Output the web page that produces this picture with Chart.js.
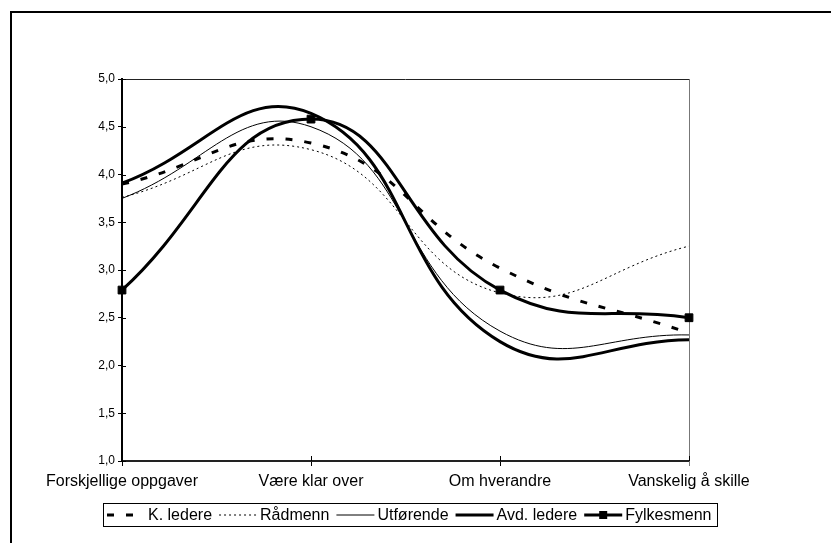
<!DOCTYPE html>
<html>
<head>
<meta charset="utf-8">
<script src="https://cdn.jsdelivr.net/npm/chart.js@4/dist/chart.umd.min.js"></script>
<style>
  html, body { margin: 0; padding: 0; background: #fff; }
  #wrap { position: relative; width: 831px; height: 543px; }
</style>
</head>
<body>
<div id="wrap"><canvas id="chartCanvas"></canvas></div>
<script>
const categories = ["Forskjellige oppgaver", "Være klar over", "Om hverandre", "Vanskelig å skille"];

const kLedere = [3.9, 4.33, 3.02, 2.34];
const radmenn = [3.76, 4.26, 2.76, 3.25];
const utforende = [3.75, 4.5, 2.36, 2.32];
const avdLedere = [3.91, 4.64, 2.25, 2.27];
const fylkesmenn = [2.79, 4.58, 2.79, 2.5];

const yMin = 1;
const yMax = 5;
const yStep = 0.5;

const FONT = '"Liberation Sans", Arial, sans-serif';

function line(label, data, width, dash, marker) {
  return {
    label: label,
    data: data,
    borderColor: "#000",
    backgroundColor: "#000",
    borderWidth: width,
    borderDash: dash,
    tension: 0.45,
    fill: false,
    pointStyle: "rect",
    pointRadius: marker ? 5.5 : 0,
    pointBorderWidth: 1,
    pointHoverRadius: 0,
  };
}

// outer frame of the chart area (runs off the right and bottom edges)
const framePlugin = {
  id: "frame",
  beforeDraw(chart) {
    const c = chart.ctx;
    c.save();
    c.fillStyle = "#000";
    c.fillRect(10, 11, 2, chart.height);
    c.fillRect(10, 11, chart.width, 2);
    c.restore();
  },
};

// top/right border of the plot and ticks crossing inside the axes
const plotBorderPlugin = {
  id: "plotBorder",
  beforeDatasetsDraw(chart) {
    const { left, right, top, bottom } = chart.chartArea;
    const c = chart.ctx;
    c.save();
    c.lineWidth = 1;
    c.strokeStyle = "#222";
    c.beginPath();
    c.moveTo(left, top + 0.5);
    c.lineTo(right, top + 0.5);
    c.stroke();
    c.strokeStyle = "#777";
    c.beginPath();
    c.moveTo(right + 0.5, top);
    c.lineTo(right + 0.5, bottom + 5);
    c.stroke();

    c.strokeStyle = "#000";
    const ys = chart.scales.y;
    ys.ticks.forEach((t) => {
      const py = Math.round(ys.getPixelForValue(t.value)) + 0.5;
      c.beginPath();
      c.moveTo(left, py);
      c.lineTo(left + 4, py);
      c.stroke();
    });
    const xs = chart.scales.x;
    categories.forEach((_, i) => {
      const px = Math.round(xs.getPixelForValue(i)) + 0.5;
      c.beginPath();
      c.moveTo(px, bottom);
      c.lineTo(px, bottom - 5);
      c.stroke();
    });
    c.restore();
  },
};

// boxed legend under the axis, one row
const boxLegendPlugin = {
  id: "boxLegend",
  afterDraw(chart) {
    const c = chart.ctx;
    const sets = chart.data.datasets;
    const sample = 38, gapA = 3, gapB = 7, padL = 4, padR = 6;
    c.save();
    c.font = "16px " + FONT;
    const widths = sets.map((d) => c.measureText(d.label).width);
    let total = padL + padR;
    widths.forEach((w, i) => {
      total += sample + gapA + w + (i < widths.length - 1 ? gapB : 0);
    });
    const boxTop = 503, boxH = 23;
    let x = Math.round(410 - total / 2);
    c.lineWidth = 1;
    c.strokeStyle = "#000";
    c.strokeRect(x + 0.5, boxTop + 0.5, Math.round(total), boxH);
    const cy = boxTop + boxH / 2 + 0.5;
    x += padL;
    sets.forEach((d, i) => {
      c.strokeStyle = "#000";
      c.lineWidth = d.borderWidth;
      c.setLineDash(d.borderDash || []);
      c.beginPath();
      c.moveTo(x, cy);
      c.lineTo(x + sample, cy);
      c.stroke();
      c.setLineDash([]);
      if (d.pointRadius > 0) {
        const s = 8;
        c.fillStyle = "#000";
        c.fillRect(x + sample / 2 - s / 2, cy - s / 2, s, s);
      }
      c.fillStyle = "#000";
      c.textBaseline = "middle";
      c.fillText(d.label, x + sample + gapA, cy + 1);
      x += sample + gapA + widths[i] + gapB;
    });
    c.restore();
  },
};

const ctx = document.getElementById("chartCanvas").getContext("2d");

new Chart(ctx, {
  type: "line",
  data: {
    labels: categories,
    datasets: [
      line("K. ledere", kLedere, 3, [7, 12], false),
      line("Rådmenn", radmenn, 1, [2, 3], false),
      line("Utførende", utforende, 1, [], false),
      line("Avd. ledere", avdLedere, 3, [], false),
      line("Fylkesmenn", fylkesmenn, 3, [], true),
    ],
  },
  options: {
    responsive: true,
    maintainAspectRatio: false,
    animation: false,
    layout: { padding: { left: 0, top: 79, right: 142, bottom: 0 } },
    plugins: {
      legend: { display: false },
      tooltip: { enabled: false },
    },
    scales: {
      x: {
        offset: false,
        grid: {
          drawOnChartArea: false,
          drawTicks: true,
          tickLength: 5,
          tickColor: "#000",
        },
        border: { color: "#222", width: 2 },
        ticks: {
          color: "#000",
          font: { family: FONT, size: 16 },
          padding: 6,
          maxRotation: 0,
          autoSkip: false,
        },
        afterFit(scale) {
          scale.height = 82;
        },
      },
      y: {
        min: yMin,
        max: yMax,
        grid: {
          drawOnChartArea: false,
          drawTicks: true,
          tickLength: 4,
          tickColor: "#000",
        },
        border: { color: "#000", width: 2 },
        ticks: {
          stepSize: yStep,
          color: "#000",
          font: { family: FONT, size: 12 },
          padding: 3,
          callback: (v) => v.toFixed(1).replace(".", ","),
        },
        afterFit(scale) {
          scale.width = 122;
        },
      },
    },
  },
  plugins: [framePlugin, plotBorderPlugin, boxLegendPlugin],
});
</script>
</body>
</html>
